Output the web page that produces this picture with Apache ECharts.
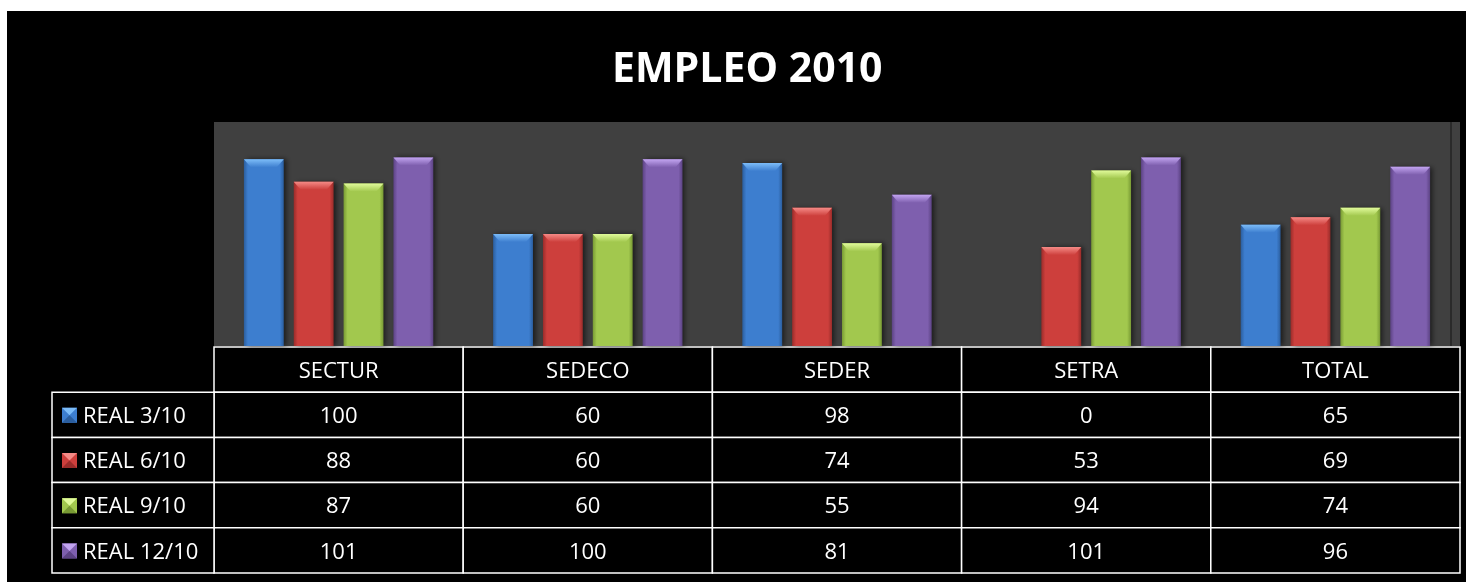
<!DOCTYPE html>
<html>
<head>
<meta charset="utf-8">
<title>EMPLEO 2010</title>
<script src="https://cdn.jsdelivr.net/npm/echarts@6/dist/echarts.min.js"></script>
<style>
  html, body { margin: 0; padding: 0; background: #ffffff; }
  #chart { position: absolute; left: 7px; top: 11px; width: 1459px; height: 571px; }
</style>
</head>
<body>
<div id="chart"></div>
<script>
// datos
const categories = ['SECTUR', 'SEDECO', 'SEDER', 'SETRA', 'TOTAL'];
const seriesNames = ['REAL 3/10', 'REAL 6/10', 'REAL 9/10', 'REAL 12/10'];
const real3 = [100, 60, 98, 0, 65];
const real6 = [88, 60, 74, 53, 69];
const real9 = [87, 60, 55, 94, 74];
const real12 = [101, 100, 81, 101, 96];
const seriesValues = [real3, real6, real9, real12];

const colors = ['#3d7ecf', '#cd3f3c', '#a2c84e', '#7e5fae'];
const darkColors = ['#2b5e9e', '#9a2c2a', '#789a34', '#5c4384'];
const lightColors = ['#7cbcf8', '#f58a86', '#e0fa9a', '#c2a4f0'];
const tableRows = [''].concat(seriesNames);
const FONT = '"Open Sans", sans-serif';

const chart = echarts.init(document.getElementById('chart'));

function barColor(i) {
  return new echarts.graphic.LinearGradient(0, 0, 1, 0, [
    { offset: 0, color: darkColors[i] },
    { offset: 0.1, color: colors[i] },
    { offset: 0.9, color: colors[i] },
    { offset: 1, color: darkColors[i] }
  ]);
}

// barras
const barSeries = seriesValues.map((vals, i) => ({
  name: seriesNames[i],
  type: 'bar',
  xAxisIndex: 0,
  yAxisIndex: 0,
  data: vals,
  barGap: '25%',
  barCategoryGap: '24%',
  z: 2,
  itemStyle: {
    color: barColor(i),
    shadowColor: 'rgba(0,0,0,0.55)',
    shadowBlur: 5,
    shadowOffsetX: 3
  },
  emphasis: { disabled: true }
}));

// bisel superior de cada barra (mismo reparto que las barras)
const capSeries = seriesValues.map((vals, i) => ({
  name: seriesNames[i] + ' bisel',
  type: 'pictorialBar',
  xAxisIndex: 0,
  yAxisIndex: 0,
  data: vals.map(v => (v > 0 ? v : { value: v, itemStyle: { opacity: 0 } })),
  barGap: '25%',
  barCategoryGap: '24%',
  symbol: 'path://M0,0 L40,0 L33,8 L7,8 Z',
  symbolSize: ['100%', 8],
  symbolPosition: 'end',
  symbolRepeat: false,
  z: 3,
  silent: true,
  itemStyle: {
    color: new echarts.graphic.LinearGradient(0, 0, 0, 1, [
      { offset: 0, color: lightColors[i] },
      { offset: 1, color: colors[i] }
    ])
  }
}));

// celdas de la tabla de datos (encabezado + valores)
const cellData = [];
for (let r = 0; r < tableRows.length; r++) {
  for (let c = 0; c < categories.length; c++) cellData.push([c, r]);
}

function renderCell(params, api) {
  const c = api.value(0);
  const r = api.value(1);
  const center = api.coord([c, r]);
  const size = api.size([1, 1]);
  const text = r === 0 ? categories[c] : String(seriesValues[r - 1][c]);
  return {
    type: 'group',
    children: [
      {
        type: 'rect',
        shape: { x: center[0] - size[0] / 2, y: center[1] - size[1] / 2, width: size[0], height: size[1] },
        style: { fill: '#000', stroke: '#ffffff', lineWidth: 1.5 }
      },
      {
        type: 'text',
        x: center[0],
        y: center[1] + 2,
        style: { text: text, fill: '#ffffff', font: '22px ' + FONT, align: 'center', verticalAlign: 'middle' }
      }
    ]
  };
}

// columna de leyenda
const legendData = seriesNames.map((n, i) => [0, i + 1]);

function renderLegendCell(params, api) {
  const r = api.value(1);
  const i = r - 1;
  const center = api.coord([0, r]);
  const size = api.size([1, 1]);
  const x0 = center[0] - size[0] / 2;
  const y0 = center[1] - size[1] / 2;
  const ix = x0 + 10, iy = center[1] - 7, is = 15;
  return {
    type: 'group',
    children: [
      {
        type: 'rect',
        shape: { x: x0, y: y0, width: size[0], height: size[1] },
        style: { fill: '#000', stroke: '#ffffff', lineWidth: 1.5 }
      },
      {
        type: 'rect',
        shape: { x: ix, y: iy, width: is, height: is },
        style: { fill: colors[i] }
      },
      {
        type: 'polygon',
        shape: { points: [[ix, iy], [ix + is, iy], [ix + is / 2, iy + is / 2]] },
        style: { fill: lightColors[i] }
      },
      {
        type: 'polygon',
        shape: { points: [[ix, iy + is], [ix + is, iy + is], [ix + is / 2, iy + is / 2]] },
        style: { fill: darkColors[i] }
      },
      {
        type: 'text',
        x: x0 + 31,
        y: center[1] + 2,
        style: { text: seriesNames[i], fill: '#ffffff', font: '22px ' + FONT, align: 'left', verticalAlign: 'middle' }
      }
    ]
  };
}

const option = {
  backgroundColor: '#000000',
  animation: false,
  title: {
    text: 'EMPLEO 2010',
    left: 600,
    top: 34,
    textStyle: { color: '#ffffff', fontFamily: FONT, fontWeight: 'bold', fontSize: 41 }
  },
  grid: [
    { left: 207, right: 6, top: 111, bottom: 236, show: true, backgroundColor: '#404040', borderWidth: 0 },
    { left: 207, right: 6, top: 336, bottom: 9 },
    { left: 45, width: 162, top: 336, bottom: 9 }
  ],
  xAxis: [
    { type: 'category', gridIndex: 0, data: categories, axisLine: { show: false }, axisTick: { show: false }, axisLabel: { show: false } },
    { type: 'category', gridIndex: 1, data: categories, show: false },
    { type: 'category', gridIndex: 2, data: [''], show: false }
  ],
  yAxis: [
    { type: 'value', gridIndex: 0, min: 0, max: 120, show: false, splitLine: { show: false } },
    { type: 'category', gridIndex: 1, data: tableRows, inverse: true, show: false },
    { type: 'category', gridIndex: 2, data: tableRows, inverse: true, show: false }
  ],
  graphic: [
    {
      type: 'line',
      shape: { x1: 1444, y1: 111, x2: 1444, y2: 335 },
      style: { stroke: '#151515', lineWidth: 1 },
      silent: true
    }
  ],
  series: barSeries.concat(capSeries, [
    {
      type: 'custom',
      name: 'tabla',
      xAxisIndex: 1,
      yAxisIndex: 1,
      data: cellData,
      renderItem: renderCell,
      silent: true
    },
    {
      type: 'custom',
      name: 'leyenda',
      xAxisIndex: 2,
      yAxisIndex: 2,
      data: legendData,
      renderItem: renderLegendCell,
      silent: true
    }
  ])
};

chart.setOption(option);
window.addEventListener('resize', () => chart.resize());
</script>
</body>
</html>
